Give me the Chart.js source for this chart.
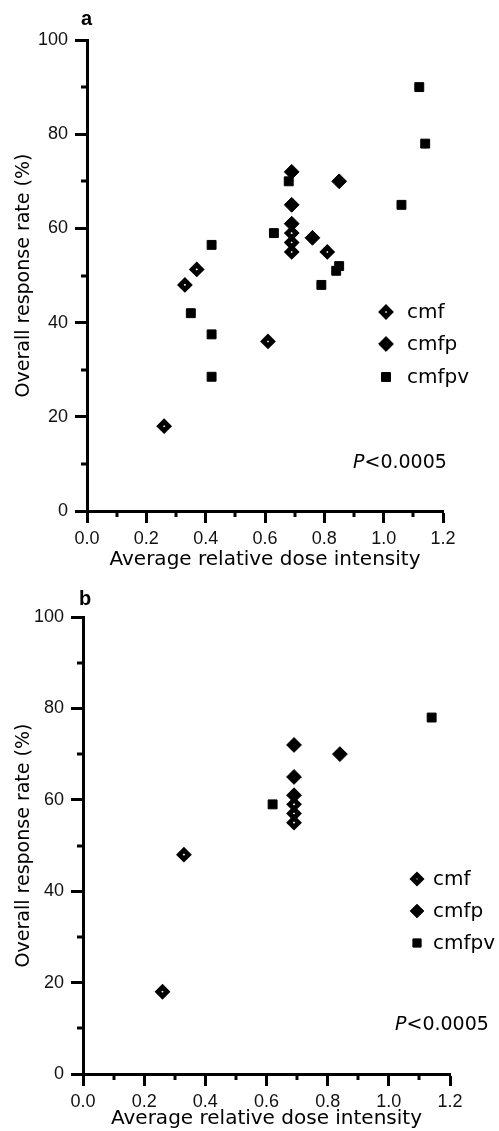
<!DOCTYPE html>
<html>
<head>
<meta charset="utf-8">
<script src="https://cdn.jsdelivr.net/npm/chart.js@4.4.1/dist/chart.umd.min.js"></script>
<style>
  body { margin: 0; background: #fff; }
  .panel { position: absolute; left: 0; }
  canvas { display: block; }
</style>
</head>
<body>
<div class="panel" style="top:0"><canvas id="chartA" width="499" height="575"></canvas></div>
<div class="panel" style="top:575px"><canvas id="chartB" width="499" height="556"></canvas></div>
<script>
// tick values
const xTickValues = [0, 0.2, 0.4, 0.6, 0.8, 1.0, 1.2];
const yTickValues = [0, 20, 40, 60, 80, 100];
const xMinorTicks = [0.1, 0.3, 0.5, 0.7, 0.9, 1.1];
const yMinorTicks = [10, 30, 50, 70, 90];

const seriesNames = ["cmf", "cmfp", "cmfpv"];

// panel a
const cmfA_x = [0.26, 0.33, 0.37, 0.61, 0.69, 0.69, 0.69, 0.81];
const cmfA_y = [18, 48, 51.3, 36, 59, 57, 55, 55];
const cmfpA_x = [0.69, 0.69, 0.69, 0.76, 0.85];
const cmfpA_y = [72, 65, 61, 58, 70];
const cmfpvA_x = [0.35, 0.42, 0.42, 0.42, 0.63, 0.68, 0.79, 0.84, 0.85, 1.06, 1.12, 1.14];
const cmfpvA_y = [42, 56.5, 37.5, 28.5, 59, 70, 48, 51, 52, 65, 90, 78];

// panel b
const cmfB_x = [0.26, 0.33, 0.69, 0.69, 0.69];
const cmfB_y = [18, 48, 59, 57, 55];
const cmfpB_x = [0.69, 0.69, 0.69, 0.84];
const cmfpB_y = [72, 65, 61, 70];
const cmfpvB_x = [0.62, 1.14];
const cmfpvB_y = [59, 78];

const zip = (xs, ys) => xs.map((x, i) => ({ x: x, y: ys[i] }));

const markerStyles = [
  { pointStyle: "rectRot", radius: 4.5, borderWidth: 4.8, backgroundColor: "#fff", borderColor: "#000" },
  { pointStyle: "rectRot", radius: 7.4, borderWidth: 1, backgroundColor: "#000", borderColor: "#000" },
  { pointStyle: "rect", radius: 6.3, borderWidth: 1, backgroundColor: "#000", borderColor: "#000" },
];

// minor ticks, legend, panel letter and P value
const extras = {
  id: "extras",
  afterDraw(chart, args, opts) {
    const { ctx } = chart;
    const x = chart.scales.x, y = chart.scales.y;
    ctx.save();
    ctx.strokeStyle = "#000";
    ctx.lineWidth = 3;
    ctx.beginPath();
    xMinorTicks.forEach(v => {
      const px = Math.round(x.getPixelForValue(v));
      ctx.moveTo(px, x.top);
      ctx.lineTo(px, x.top + 6);
    });
    yMinorTicks.forEach(v => {
      const py = Math.round(y.getPixelForValue(v));
      ctx.moveTo(y.right, py);
      ctx.lineTo(y.right - 6, py);
    });
    ctx.stroke();

    // panel letter
    ctx.fillStyle = "#000";
    ctx.font = "bold 20px 'Liberation Sans', Arial, sans-serif";
    ctx.textBaseline = "alphabetic";
    ctx.textAlign = "left";
    ctx.fillText(opts.letter, opts.letterX, opts.letterY);

    // legend
    seriesNames.forEach((name, i) => {
      const ly = opts.legendY[i];
      const st = markerStyles[i];
      ctx.fillStyle = st.backgroundColor;
      ctx.strokeStyle = st.borderColor;
      ctx.lineWidth = st.borderWidth;
      Chart.helpers.drawPoint(ctx, { pointStyle: st.pointStyle, radius: st.radius * opts.legendScale, borderWidth: st.borderWidth, rotation: 0 }, opts.legendX, ly);
      ctx.fillStyle = "#000";
      ctx.font = "20px 'DejaVu Sans', sans-serif";
      ctx.fillText(name, opts.legendTextX, ly + 5.5);
    });

    // P value
    ctx.font = "italic 19px 'DejaVu Sans', sans-serif";
    ctx.fillText("P", opts.pX, opts.pY);
    const pw = ctx.measureText("P").width;
    ctx.font = "19px 'DejaVu Sans', sans-serif";
    ctx.fillText("<0.0005", opts.pX + pw, opts.pY);
    ctx.restore();
  },
};

function makeChart(id, data, box, extra) {
  const tickFont = { family: "'Liberation Sans', Arial, sans-serif", size: 18 };
  const titleFont = { family: "'DejaVu Sans', sans-serif", size: 20 };
  new Chart(document.getElementById(id), {
    type: "scatter",
    data: {
      datasets: data.map((pts, i) => ({
        label: seriesNames[i],
        data: pts,
        pointStyle: markerStyles[i].pointStyle,
        pointRadius: markerStyles[i].radius,
        pointBorderWidth: markerStyles[i].borderWidth,
        pointBackgroundColor: markerStyles[i].backgroundColor,
        pointBorderColor: markerStyles[i].borderColor,
        pointHoverRadius: markerStyles[i].radius,
      })),
    },
    options: {
      responsive: false,
      animation: false,
      events: [],
      layout: { padding: { left: 0, top: box.top, right: box.right, bottom: 0 } },
      plugins: {
        legend: { display: false },
        tooltip: { enabled: false },
        extras: extra,
      },
      scales: {
        x: {
          type: "linear",
          min: 0,
          max: 1.2,
          afterBuildTicks: s => { s.ticks = xTickValues.map(v => ({ value: v })); },
          afterFit: s => { s.height = box.xHeight; },
          ticks: { callback: v => v.toFixed(1), font: tickFont, color: "#111", padding: 5, maxRotation: 0, autoSkip: false },
          grid: { drawOnChartArea: false, drawTicks: true, tickLength: 12, tickWidth: 3, tickColor: "#000" },
          border: { display: true, width: 3, color: "#000" },
          title: { display: true, text: "Average relative dose intensity", font: titleFont, color: "#000", padding: { top: 0, bottom: box.titlePad } },
        },
        y: {
          type: "linear",
          min: 0,
          max: 100,
          afterBuildTicks: s => { s.ticks = yTickValues.map(v => ({ value: v })); },
          afterFit: s => { s.width = box.yWidth; },
          ticks: { font: tickFont, color: "#111", padding: 7 },
          grid: { drawOnChartArea: false, drawTicks: true, tickLength: 12, tickWidth: 3, tickColor: "#000" },
          border: { display: true, width: 3, color: "#000" },
          title: { display: true, text: "Overall response rate (%)", font: { family: "'DejaVu Sans', sans-serif", size: 19 }, color: "#000", padding: { top: 13, bottom: 0 } },
        },
      },
    },
    plugins: [extras],
  });
}

makeChart("chartA",
  [zip(cmfA_x, cmfA_y), zip(cmfpA_x, cmfpA_y), zip(cmfpvA_x, cmfpvA_y)],
  { top: 40, right: 56, xHeight: 64, yWidth: 87, titlePad: 3 },
  { letter: "a", letterX: 81, letterY: 25, legendX: 386, legendTextX: 407, legendY: [312, 344, 377], legendScale: 1, pX: 353, pY: 468 }
);

makeChart("chartB",
  [zip(cmfB_x, cmfB_y), zip(cmfpB_x, cmfpB_y), zip(cmfpvB_x, cmfpvB_y)],
  { top: 42, right: 49, xHeight: 57, yWidth: 83, titlePad: 0 },
  { letter: "b", letterX: 79, letterY: 30, legendX: 417, legendTextX: 433, legendY: [304, 336, 368], legendScale: 0.92, pX: 395, pY: 455 }
);
</script>
</body>
</html>
